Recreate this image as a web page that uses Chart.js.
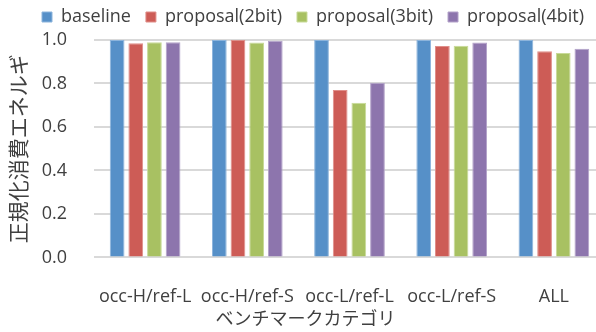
<!DOCTYPE html>
<html>
<head>
<meta charset="utf-8">
<script src="https://cdn.jsdelivr.net/npm/chart.js@4/dist/chart.umd.min.js"></script>
<style>
  html, body { margin: 0; padding: 0; background: #ffffff; overflow: hidden; }
  #wrap { position: relative; width: 606px; height: 332px; }
</style>
</head>
<body>
<div id="wrap"><canvas id="chart" width="606" height="332"></canvas></div>
<script>
// Benchmark categories and normalized energy per configuration
const categories = ['occ-H/ref-L', 'occ-H/ref-S', 'occ-L/ref-L', 'occ-L/ref-S', 'ALL'];
const seriesNames = ['baseline', 'proposal(2bit)', 'proposal(3bit)', 'proposal(4bit)'];
const baseline     = [1.000, 1.000, 1.000, 1.000, 1.000];
const proposal2bit = [0.985, 1.001, 0.770, 0.972, 0.948];
const proposal3bit = [0.990, 0.989, 0.711, 0.974, 0.940];
const proposal4bit = [0.990, 0.997, 0.803, 0.988, 0.960];
const yTicks = [0.0, 0.2, 0.4, 0.6, 0.8, 1.0];

const fills   = ['#5690c8', '#cd5c56', '#a8c162', '#8d75ad'];
const borders = ['#8cb4dc', '#e08e89', '#c8da98', '#b3a2c9'];
const textColor = '#404040';
const latin = "'Open Sans', 'Noto Sans CJK JP', sans-serif";
const cjk = "'Noto Sans CJK JP', 'Open Sans', sans-serif";

const values = [baseline, proposal2bit, proposal3bit, proposal4bit];

// Keeps the legend on one row and nudges legend / bottom title into place
const boxShift = {
  id: 'boxShift',
  beforeLayout(chart) {
    const lg = chart.legend;
    if (lg && !lg._fitWrapped) {
      const fit = lg.fit.bind(lg);
      lg.fit = function () { this.maxWidth = 1000; fit(); this.height = 40; };
      lg._fitWrapped = true;
    }
  },
  afterLayout(chart) {
    const lg = chart.legend;
    if (lg) {
      lg.left += 27; lg.right += 27;
      lg.top -= 7; lg.bottom -= 7;
    }
    const tb = chart.titleBlock;
    if (tb) { tb.left += 3; tb.right += 3; }
  }
};

new Chart(document.getElementById('chart'), {
  type: 'bar',
  data: {
    labels: categories,
    datasets: seriesNames.map((name, i) => ({
      label: name,
      data: values[i],
      backgroundColor: fills[i],
      borderColor: borders[i],
      borderWidth: 1,
      categoryPercentage: 0.73,
      barPercentage: 0.79
    }))
  },
  options: {
    responsive: false,
    animation: false,
    devicePixelRatio: 1,
    layout: { padding: { left: 0, right: 1, top: 0, bottom: 0 } },
    plugins: {
      legend: {
        position: 'top',
        align: 'start',
        labels: {
          boxWidth: 10,
          boxHeight: 10,
          padding: 15,
          color: textColor,
          font: { family: latin, size: 18 }
        }
      },
      title: {
        display: true,
        position: 'bottom',
        text: 'ベンチマークカテゴリ',
        color: textColor,
        font: { family: cjk, size: 18, weight: 'normal' },
        padding: { top: 0, bottom: 3 }
      },
      tooltip: { enabled: false }
    },
    scales: {
      x: {
        grid: { display: false, drawTicks: false },
        border: { display: false },
        ticks: {
          color: textColor,
          font: { family: latin, size: 18 },
          padding: 29,
          maxRotation: 0,
          autoSkip: false
        },
        afterFit(scale) { scale.height = 50; }
      },
      y: {
        min: 0,
        max: 1.0,
        afterBuildTicks(scale) { scale.ticks = yTicks.map(v => ({ value: v })); },
        grid: { color: '#d9d9d9', lineWidth: 2, drawTicks: false },
        border: { display: false },
        ticks: {
          color: textColor,
          font: { family: latin, size: 18 },
          padding: 27,
          callback: v => Number(v).toFixed(1)
        },
        title: {
          display: true,
          text: '正規化消費エネルギ',
          color: textColor,
          font: { family: cjk, size: 21, weight: 'normal' },
          padding: { top: 5, bottom: 0 }
        },
        afterFit(scale) { scale.width = 94; }
      }
    }
  },
  plugins: [boxShift]
});
</script>
</body>
</html>
